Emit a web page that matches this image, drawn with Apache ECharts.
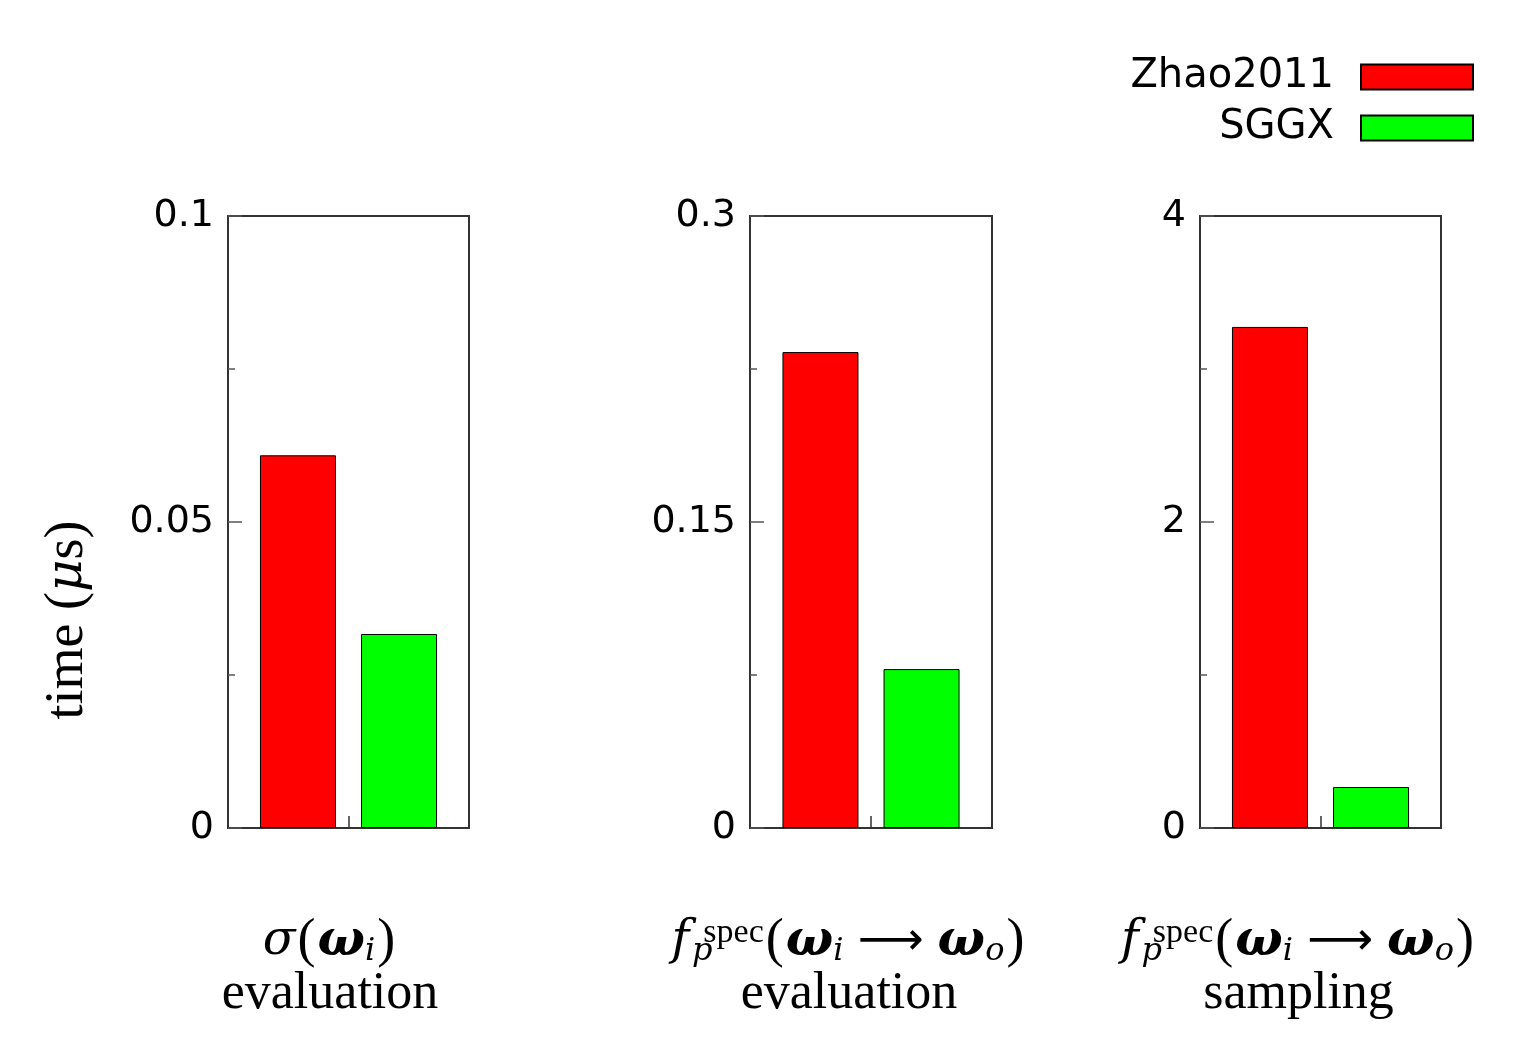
<!DOCTYPE html>
<html>
<head>
<meta charset="utf-8">
<script src="https://cdn.jsdelivr.net/npm/echarts@6/dist/echarts.min.js"></script>
<style>html,body{margin:0;padding:0;background:#fff}#c{width:1540px;height:1044px}</style>
</head>
<body>
<div id="c"></div>
<script>
// ---- data ----
const categories = ['sigma evaluation', 'fspec evaluation', 'fspec sampling'];
const seriesNames = ['Zhao2011', 'SGGX'];
const zhao2011 = [0.0609, 0.2333, 3.275];
const sggx = [0.0317, 0.0779, 0.268];
const axisMax = [0.1, 0.3, 4];
const axisStep = [0.05, 0.15, 2];
const categoryLabels = [
  '{it|σ}{p|(}{w|ω}{sub|i}{p|)}\n{r|evaluation}',
  '{fi|f}{subp|p}{sup|spec}{p|(}{w|ω}{sub|i}{ar|⟶}{w|ω}{sub|o}{p|)}\n{r|evaluation}',
  '{fi|f}{subp|p}{sup|spec}{p|(}{w|ω}{sub|i}{ar|⟶}{w|ω}{sub|o}{p|)}\n{r|sampling}'
];

const serif = "'Liberation Serif', 'DejaVu Serif', serif";
const mserif = "'DejaVu Serif', 'Liberation Serif', serif";
const sans = "'DejaVu Sans', sans-serif";
const rich = {
  r: {fontFamily: serif, fontSize: 52, lineHeight: 52, color: '#000'},
  p: {fontFamily: serif, fontSize: 54, lineHeight: 52, padding: [0, 2, 0, 2], color: '#000'},
  it: {fontFamily: mserif, fontSize: 48, fontStyle: 'italic', lineHeight: 52, color: '#000'},
  fi: {fontFamily: mserif, fontSize: 48, fontStyle: 'italic', lineHeight: 52, padding: [0, 12, 0, 0], color: '#000'},
  w: {fontFamily: mserif, fontSize: 50, fontStyle: 'italic', fontWeight: 'bold', lineHeight: 52, color: '#000'},
  ar: {fontFamily: sans, fontSize: 46, lineHeight: 52, padding: [0, 14, 0, 14], color: '#000'},
  sub: {fontFamily: mserif, fontSize: 32, fontStyle: 'italic', verticalAlign: 'bottom', lineHeight: 52, padding: [16, 0, 0, 0], color: '#000'},
  subp: {fontFamily: mserif, fontSize: 32, fontStyle: 'italic', verticalAlign: 'bottom', lineHeight: 52, padding: [16, 0, 0, 0], width: 2, color: '#000'},
  sup: {fontFamily: serif, fontSize: 34, verticalAlign: 'top', lineHeight: 52, padding: [0, 0, 18, 0], color: '#000'},
  yr: {fontFamily: serif, fontSize: 54, lineHeight: 54, color: '#000'},
  yit: {fontFamily: mserif, fontSize: 50, fontStyle: 'italic', lineHeight: 54, color: '#000'}
};

// ---- layout ----
const gridBoxes = [
  {left: 228, width: 241},
  {left: 750, width: 242},
  {left: 1200, width: 241}
];
const labelShift = [37, 44, 44];

const grids = [], xAxes = [], yAxes = [], series = [];
categories.forEach((cat, i) => {
  grids.push({left: gridBoxes[i].left, width: gridBoxes[i].width, top: 216, bottom: 216,
    show: true, borderColor: '#333', borderWidth: 2, backgroundColor: 'transparent'});
  xAxes.push({type: 'category', gridIndex: i, data: [cat],
    axisLine: {show: true, lineStyle: {color: '#333', width: 2}},
    axisTick: {show: true, inside: true, alignWithLabel: true, length: 12, lineStyle: {color: '#333', width: 1.5}},
    axisLabel: {margin: 88, formatter: () => categoryLabels[i], rich: rich, padding: [0, labelShift[i], 0, 0]},
    splitLine: {show: false}});
  yAxes.push({type: 'value', gridIndex: i, min: 0, max: axisMax[i], interval: axisStep[i],
    axisLine: {show: true, lineStyle: {color: '#333', width: 2}},
    axisTick: {show: true, inside: true, length: 14, lineStyle: {color: '#555', width: 1.5}},
    minorTick: {show: true, splitNumber: 2, length: 7, lineStyle: {color: '#555', width: 1.5}},
    minorSplitLine: {show: false},
    splitLine: {show: false},
    axisLabel: {fontFamily: sans, fontSize: 38, color: '#000', margin: 14}});
  series.push({name: seriesNames[0], type: 'bar', xAxisIndex: i, yAxisIndex: i,
    data: [zhao2011[i]], barWidth: 76, barGap: '33%',
    itemStyle: {color: '#ff0000', borderColor: '#000', borderWidth: 1}});
  series.push({name: seriesNames[1], type: 'bar', xAxisIndex: i, yAxisIndex: i,
    data: [sggx[i]], barWidth: 76, barGap: '33%',
    itemStyle: {color: '#00ff00', borderColor: '#000', borderWidth: 1}});
});

const chart = echarts.init(document.getElementById('c'), null, {renderer: 'canvas'});
chart.setOption({
  animation: false,
  backgroundColor: '#fff',
  legend: {
    data: seriesNames, orient: 'vertical', align: 'right', right: 66, top: 57, padding: 0,
    itemWidth: 112, itemHeight: 25, itemGap: 11, icon: 'rect',
    textStyle: {fontFamily: sans, fontSize: 40, color: '#000', lineHeight: 40, padding: [0, 22, 0, 0]}
  },
  grid: grids,
  xAxis: xAxes,
  yAxis: yAxes,
  series: series,
  graphic: [{
    type: 'text', x: 68, y: 620, rotation: Math.PI / 2,
    style: {text: '{yr|time (}{yit|μ}{yr|s)}', rich: rich, align: 'center', verticalAlign: 'middle'}
  }]
});
</script>
</body>
</html>
